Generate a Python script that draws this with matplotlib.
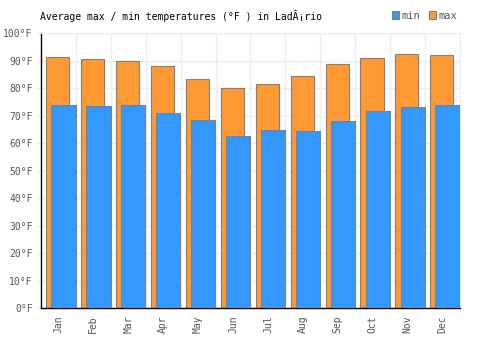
import matplotlib
matplotlib.use("Agg")
import matplotlib.pyplot as plt
import numpy as np

months = ["Jan", "Feb", "Mar", "Apr", "May", "Jun", "Jul", "Aug", "Sep", "Oct", "Nov", "Dec"]
max_temps = [91.2, 90.4, 89.7, 87.9, 83.2, 79.9, 81.5, 84.2, 88.6, 90.8, 92.2, 92.0]
min_temps = [73.7, 73.3, 73.7, 70.8, 68.4, 62.5, 64.7, 64.4, 68.0, 71.6, 73.1, 73.7]
yticks = list(range(0, 101, 10))
ytick_labels = [f"{v}°F" for v in yticks]
title = "Average max / min temperatures (°F ) in LadĂ¡rio"

mono = "DejaVu Sans Mono"
fig = plt.figure(figsize=(5, 3.5), dpi=100)
ax = fig.add_axes([0.082, 0.12, 0.838, 0.7857])

x = np.arange(len(months))
ax.bar(x - 0.02, max_temps, width=0.66, color="#FF9933", edgecolor="#808080",
       linewidth=0.8, label="max", zorder=2)
ax.bar(x + 0.145, min_temps, width=0.695, color="#3399FF", edgecolor="#808080",
       linewidth=0.8, label="min", zorder=3)

ax.set_xlim(-0.5, len(months) - 0.5)
ax.set_ylim(0, 100)
ax.set_yticks(yticks)
ax.set_yticklabels(ytick_labels, fontfamily=mono, fontsize=7, color="#555555")
ax.set_xticks(x)
ax.set_xticklabels(months, rotation=90, fontfamily=mono, fontsize=7, color="#555555")
ax.set_xticks(np.arange(len(months)) + 0.5, minor=True)
ax.tick_params(axis="y", length=4, color="#eeeeee", pad=2)
ax.tick_params(axis="x", which="both", length=0, pad=5)
ax.grid(axis="y", which="major", color="#eeeeee", linewidth=1, zorder=0)
ax.grid(axis="x", which="minor", color="#eeeeee", linewidth=1, zorder=0)
ax.set_axisbelow(True)

for s in ["top", "right"]:
    ax.spines[s].set_color("#eeeeee")
for s in ["left", "bottom"]:
    ax.spines[s].set_color("black")
    ax.spines[s].set_linewidth(1)

fig.text(0.08, 0.955, title, fontfamily=mono, fontsize=7, color="black",
         ha="left", va="center")

h, l = ax.get_legend_handles_labels()
leg = fig.legend([h[1], h[0]], [l[1], l[0]], loc="center right",
                 bbox_to_anchor=(0.915, 0.955), ncol=2, frameon=False,
                 handlelength=0.7, handleheight=0.7, handletextpad=0.25,
                 columnspacing=0.8, borderpad=0, borderaxespad=0,
                 prop={"family": mono, "size": 7.5})
for t in leg.get_texts():
    t.set_color("#555555")

fig.savefig("out.png", dpi=100)
